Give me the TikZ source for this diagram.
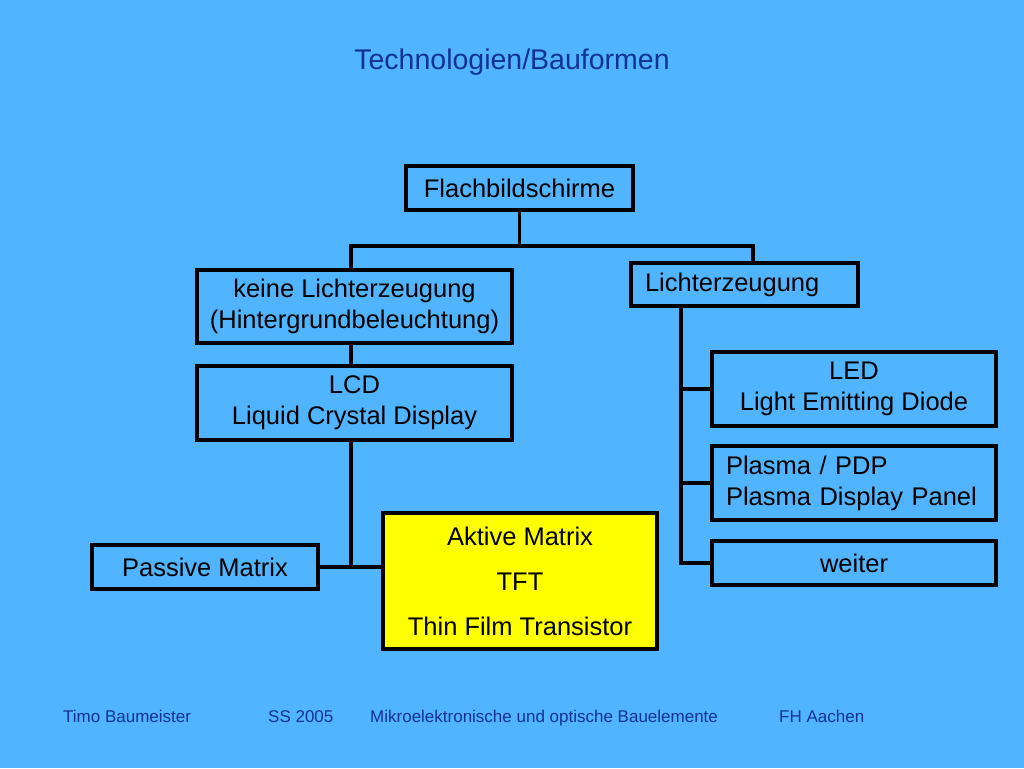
\documentclass[tikz,border=0pt]{standalone}
\usepackage{fontspec}
\setmainfont{Liberation Sans}
\definecolor{bgblue}{RGB}{80,180,255}
\definecolor{titleblue}{RGB}{18,50,150}
\definecolor{boxyellow}{RGB}{255,255,0}
\begin{document}
\begin{tikzpicture}[x=1pt,y=-1pt,
  box/.style={draw=black, line width=3.2pt, rectangle, inner sep=0pt, align=center,
    font=\fontsize{25.5}{31}\selectfont, text=black},
  conn/.style={draw=black, line width=3.2pt},
  foot/.style={anchor=base west, inner sep=0pt, text=titleblue, font=\fontsize{17}{18}\selectfont}]
\fill[bgblue] (0,0) rectangle (1024,768);
\useasboundingbox (0,0) rectangle (1024,768);
\node[text=titleblue, font=\fontsize{28.5}{32}\selectfont] (title) at (512,62) {Technologien/Bauformen};
\node[box, minimum width=227, minimum height=44] (flach) at (519.5,188) {Flachbildschirme};
\node[box, minimum width=315, minimum height=73] (keine) at (354.5,306.5) {keine Lichterzeugung\\(Hintergrundbeleuchtung)};
\node[box, minimum width=227, minimum height=43, text width=199, align=left] (licht) at (744.5,284.5) {Lichterzeugung};
\node[box, minimum width=315, minimum height=74] (lcd) at (354.5,403) {LCD\\Liquid Crystal Display};
\node[box, minimum width=226, minimum height=44] (passive) at (205,567) {Passive Matrix};
\node[box, fill=boxyellow, minimum width=274, minimum height=136] (aktive) at (520,581) {Aktive Matrix\\[14pt]TFT\\[14pt]Thin Film Transistor};
\node[box, minimum width=284, minimum height=74] (led) at (854,389) {LED\\Light Emitting Diode};
\node[box, minimum width=284, minimum height=74, text width=256, align=left] (plasma) at (854,483) {Plasma / PDP\\Plasma Display Panel};
\node[box, minimum width=284, minimum height=44] (weiter) at (854,563) {weiter};
\coordinate (jl) at (351,246);
\coordinate (jr) at (753,246);
\coordinate (jv) at (681,300);
\draw[conn] (flach.south) -- (flach.south |- jl);
\draw[conn, line join=miter] (keine.north -| jl) -- (jl) -- (jr) -- (jr |- licht.north);
\draw[conn] (keine.south -| jl) -- (lcd.north -| jl);
\draw[conn, line join=miter] (lcd.south -| jl) -- (jl |- passive.east);
\draw[conn] (passive.east) -- (aktive.west |- passive.east);
\draw[conn, line join=miter] (licht.south -| jv) -- (jv |- weiter.west) -- (weiter.west);
\draw[conn] (jv |- led.west) -- (led.west);
\draw[conn] (jv |- plasma.west) -- (plasma.west);
\node[foot] (f1) at (63,722) {Timo Baumeister};
\node[foot] (f2) at (268,722) {SS 2005};
\node[foot] (f3) at (370,722) {Mikroelektronische und optische Bauelemente};
\node[foot] (f4) at (779,722) {FH Aachen};
\end{tikzpicture}
\end{document}
